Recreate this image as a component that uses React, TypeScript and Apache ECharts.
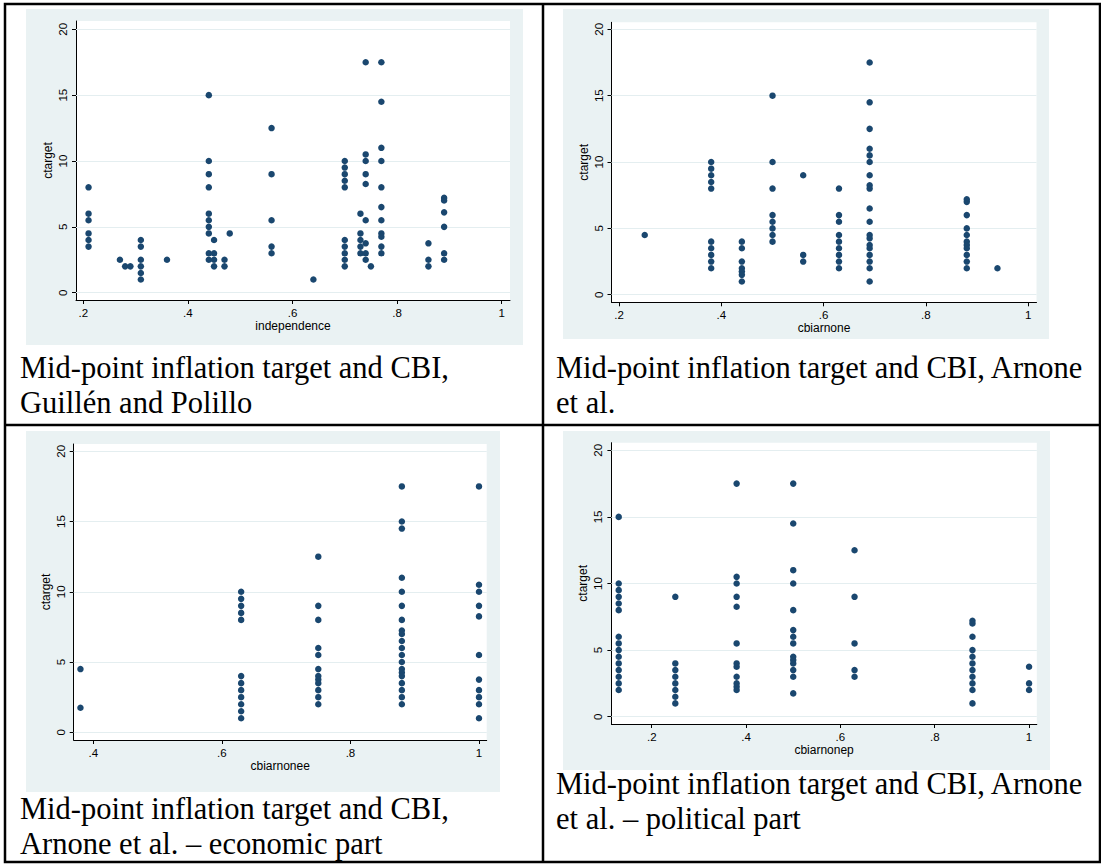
import React, { useEffect, useRef } from "react";
import * as echarts from "echarts";

// ---------- tick labels ----------
const yTicks = [0, 5, 10, 15, 20];
const xTicksFull = [0.2, 0.4, 0.6, 0.8, 1];
const xTicksEcon = [0.4, 0.6, 0.8, 1];

// ---------- panel 1: independence (Guillén and Polillo) ----------
const indepX = [0.21, 0.27, 0.28, 0.29, 0.31, 0.36, 0.44, 0.45, 0.47, 0.48, 0.56, 0.64, 0.7, 0.73, 0.74, 0.75, 0.77, 0.86, 0.89];
const indepY = [
  [8, 6, 5.5, 4.5, 4, 3.5],
  [2.5],
  [2],
  [2],
  [4, 3.5, 2.5, 2, 1.5, 1],
  [2.5],
  [15, 10, 9, 8, 6, 5.5, 5, 4.5, 3, 2.5],
  [4, 3, 2.5, 2],
  [2.5, 2],
  [4.5],
  [12.5, 9, 5.5, 3.5, 3],
  [1],
  [10, 9.5, 9, 8.5, 8, 4, 3.5, 3, 2.5, 2],
  [6, 4.5, 4, 3.5, 3],
  [17.5, 10.5, 10, 9, 8.25, 5.5, 3.75, 3, 2.5],
  [2],
  [17.5, 14.5, 11, 10, 8, 6.5, 5.5, 4.5, 4.25, 3.5, 3],
  [3.75, 2.5, 2],
  [7.2, 7, 6.1, 5, 3, 2.5],
];

// ---------- panel 2: cbiarnone ----------
const arnoneX = [0.25, 0.38, 0.44, 0.5, 0.56, 0.63, 0.69, 0.88, 0.94];
const arnoneY = [
  [4.5],
  [10, 9.5, 9, 8.5, 8, 4, 3.5, 3, 2.5, 2],
  [4, 3.5, 2.5, 2, 1.75, 1.5, 1],
  [15, 10, 8, 6, 5.5, 5, 4.5, 4],
  [9, 3, 2.5],
  [8, 6, 5.5, 4.5, 4, 3.5, 3, 2.5, 2],
  [17.5, 14.5, 12.5, 11, 10.5, 10, 9, 8.25, 8, 6.5, 5.5, 4.5, 4.25, 3.75, 3.5, 3, 2.5, 2, 1],
  [7.2, 7, 6, 5, 4.5, 4, 3.75, 3.5, 3, 2.5, 2],
  [2],
];

// ---------- panel 3: cbiarnonee (economic part) ----------
const econX = [0.38, 0.63, 0.75, 0.88, 1];
const econY = [
  [4.5, 1.75],
  [10, 9.5, 9, 8.5, 8, 4, 3.5, 3, 2.5, 2, 1.5, 1],
  [12.5, 9, 8, 6, 5.5, 4.5, 4, 3.75, 3.5, 3, 2.5, 2],
  [17.5, 15, 14.5, 11, 10, 9, 8, 7.25, 7, 6.5, 6, 5.5, 5, 4.5, 4.25, 4, 3.5, 3, 2.5, 2],
  [17.5, 10.5, 10, 9, 8.25, 5.5, 3.75, 3, 2.5, 2, 1],
];

// ---------- panel 4: cbiarnonep (political part) ----------
const polX = [0.13, 0.25, 0.38, 0.5, 0.63, 0.88, 1];
const polY = [
  [15, 10, 9.5, 9, 8.5, 8, 6, 5.5, 5, 4.5, 4, 3.5, 3, 2.5, 2],
  [9, 4, 3.5, 3, 2.5, 2, 1.5, 1],
  [17.5, 10.5, 10, 9, 8.25, 5.5, 4, 3.75, 3, 2.5, 2.25, 2],
  [17.5, 14.5, 11, 10, 8, 6.5, 6, 5.5, 4.5, 4.25, 4, 3.5, 3, 1.75],
  [12.5, 9, 5.5, 3.5, 3],
  [7.2, 7, 6, 5, 4.5, 4, 3.5, 3, 2.5, 2, 1],
  [3.75, 2.5, 2],
];

// ---------- captions ----------
const captions = [
  ["Mid-point inflation target and CBI,", "Guillén and Polillo"],
  ["Mid-point inflation target and CBI, Arnone", "et al."],
  ["Mid-point inflation target and CBI,", "Arnone et al. – economic part"],
  ["Mid-point inflation target and CBI, Arnone", "et al. – political part"],
];

const xNames = ["independence", "cbiarnone", "cbiarnonee", "cbiarnonep"];
const yName = "ctarget";

const FONT_SANS = "'Liberation Sans', Arial, Helvetica, sans-serif";
const FONT_SERIF = "'Liberation Serif', 'Times New Roman', Times, serif";
const NAVY = "#1a476f";
const BG = "#eaf2f3";
const GRIDLINE = "#e4eef0";

function pairs(xs: number[], ys: number[][]) {
  const out: number[][] = [];
  xs.forEach((x, i) => ys[i].forEach((y) => out.push([x, y])));
  return out;
}

function fmtX(v: number) {
  if (v === 1) return "1";
  return String(Math.round(v * 10) / 10).replace(/^0\./, ".");
}

// layout of the four panels (positions only)
const layout = [
  { grid: { left: 76, top: 21, width: 434, height: 279 }, x: [0.186, 1.016], y: [-0.554, 20.63], bg: [26, 9, 497, 336], cap: [20, 368] },
  { grid: { left: 611.5, top: 22.3, width: 425, height: 280 }, x: [0.185, 1.0164], y: [-0.57, 20.53], bg: [563, 9, 486, 330], cap: [556, 368] },
  { grid: { left: 73.7, top: 444, width: 413, height: 296 }, x: [0.3695, 1.012], y: [-0.548, 20.52], bg: [26, 431, 474, 361], cap: [20, 809] },
  { grid: { left: 611.4, top: 442.7, width: 425.4, height: 281.3 }, x: [0.1145, 1.0164], y: [-0.548, 20.57], bg: [563, 431, 487, 339], cap: [556, 784] },
];

const panelData = [pairs(indepX, indepY), pairs(arnoneX, arnoneY), pairs(econX, econY), pairs(polX, polY)];
const panelXTicks = [xTicksFull, xTicksFull, xTicksEcon, xTicksFull];

export default function App() {
  const ref = useRef<HTMLDivElement>(null);
  useEffect(() => {
    if (!ref.current) return;
    const chart = echarts.init(ref.current, undefined, { renderer: "svg" });
    const labelStyle = { color: "#000", fontFamily: FONT_SANS, fontSize: 11.5 };

    const graphic: any[] = [];
    layout.forEach((l) => {
      graphic.push({
        type: "rect",
        z: -10,
        shape: { x: l.bg[0], y: l.bg[1], width: l.bg[2], height: l.bg[3] },
        style: { fill: BG },
        silent: true,
      });
    });
    captions.forEach((c, i) => {
      const [cx, cy] = layout[i].cap;
      c.forEach((line, j) => {
        graphic.push({
          type: "text",
          x: cx,
          y: cy + j * 34.5,
          z: 50,
          style: { text: line, fontSize: 30.5, fontFamily: FONT_SERIF, fill: "#000", verticalAlign: "middle", align: "left" },
        });
      });
    });
    // table borders
    graphic.push({ type: "rect", z: 100, shape: { x: 5, y: 4, width: 1095, height: 858 }, style: { fill: "none", stroke: "#000", lineWidth: 2.5 } });
    graphic.push({ type: "line", z: 100, shape: { x1: 543, y1: 4, x2: 543, y2: 862 }, style: { stroke: "#000", lineWidth: 2.5 } });
    graphic.push({ type: "line", z: 100, shape: { x1: 5, y1: 425, x2: 1100, y2: 425 }, style: { stroke: "#000", lineWidth: 2.5 } });

    const option: any = {
      animation: false,
      backgroundColor: "#fff",
      grid: layout.map((l) => ({ ...l.grid, show: true, backgroundColor: "#fff", borderWidth: 0, containLabel: false })),
      xAxis: layout.map((l, i) => ({
        type: "value",
        gridIndex: i,
        min: l.x[0],
        max: l.x[1],
        axisLine: { show: true, onZero: false, lineStyle: { color: "#000", width: 1 } },
        axisTick: { show: true, length: 4, customValues: panelXTicks[i], lineStyle: { color: "#000" } },
        axisLabel: { ...labelStyle, customValues: panelXTicks[i], formatter: fmtX, margin: 7 },
        splitLine: { show: false },
        name: xNames[i],
        nameLocation: "middle",
        nameGap: 19,
        nameTextStyle: { ...labelStyle, fontSize: 12 },
      })),
      yAxis: layout.map((l, i) => ({
        type: "value",
        gridIndex: i,
        min: l.y[0],
        max: l.y[1],
        axisLine: { show: true, onZero: false, lineStyle: { color: "#000", width: 1 } },
        axisTick: { show: true, length: 4, customValues: yTicks, lineStyle: { color: "#000" } },
        axisLabel: { ...labelStyle, customValues: yTicks, rotate: 90, margin: 7 },
        splitLine: { show: false },
        name: yName,
        nameLocation: "middle",
        nameRotate: 90,
        nameGap: 22,
        nameTextStyle: { ...labelStyle, fontSize: 12 },
      })),
      series: panelData.map((d, i) => ({
        type: "scatter",
        xAxisIndex: i,
        yAxisIndex: i,
        data: d,
        symbol: "circle",
        symbolSize: 6.5,
        itemStyle: { color: NAVY, opacity: 1 },
        silent: true,
        markLine: {
          silent: true,
          symbol: ["none", "none"],
          label: { show: false },
          lineStyle: { color: GRIDLINE, type: "solid", width: 1 },
          data: yTicks.map((v) => ({ yAxis: v })),
          z: 1,
        },
      })),
      graphic,
    };
    chart.setOption(option);
    return () => chart.dispose();
  }, []);
  return <div ref={ref} style={{ position: "absolute", left: 0, top: 0, width: 1101, height: 864 }} />;
}
